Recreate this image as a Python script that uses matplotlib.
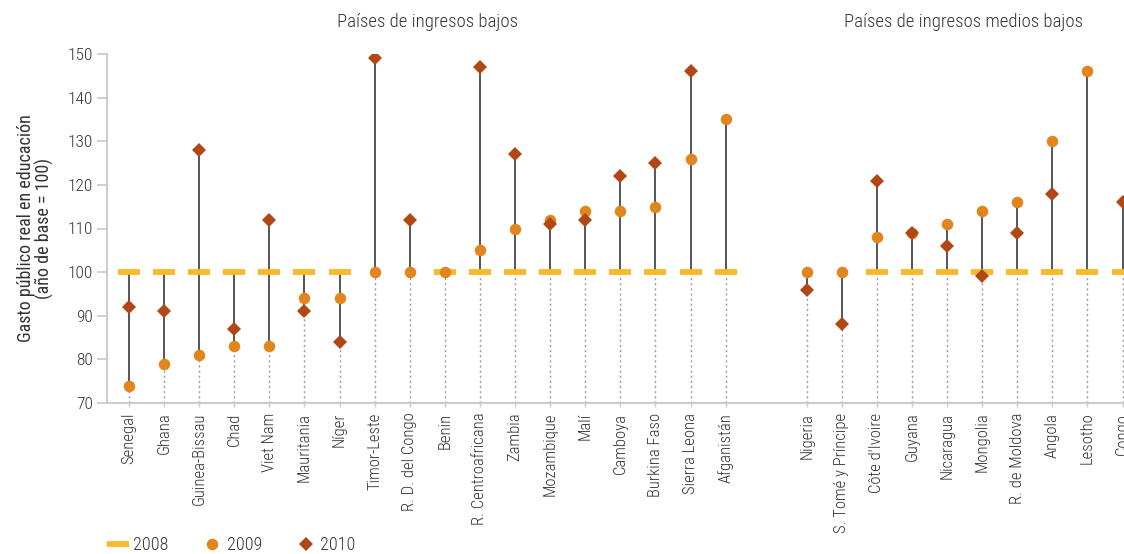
import numpy as np
import matplotlib
matplotlib.use("Agg")
import matplotlib.pyplot as plt

plt.rcParams['font.family'] = ['Roboto Condensed', 'Liberation Sans', 'DejaVu Sans']
plt.rcParams['font.weight'] = 'light'

low_countries = ["Senegal", "Ghana", "Guinea-Bissau", "Chad", "Viet Nam", "Mauritania",
                 "Níger", "Timor-Leste", "R. D. del Congo", "Benin", "R. Centroafricana",
                 "Zambia", "Mozambique", "Malí", "Camboya", "Burkina Faso", "Sierra Leona",
                 "Afganistán"]
low_2008 = [100, 100, 100, 100, 100, 100, 100, np.nan, np.nan, 100, 100,
            100, 100, 100, 100, 100, 100, 100]
low_2009 = [74, 79, 81, 83, 83, 94, 94, 100, 100, 100, 105,
            110, 112, 114, 114, 115, 126, 135]
low_2010 = [92, 91, 128, 87, 112, 91, 84, 149, 112, np.nan, 147,
            127, 111, 112, 122, 125, 146, np.nan]

mid_countries = ["Nigeria", "S. Tomé y Príncipe", "Côte d'Ivoire", "Guyana", "Nicaragua",
                 "Mongolia", "R. de Moldova", "Angola", "Lesotho", "Congo"]
mid_2008 = [np.nan, np.nan, 100, 100, 100, 100, 100, 100, 100, 100]
mid_2009 = [100, 100, 108, 109, 111, 114, 116, 130, 146, np.nan]
mid_2010 = [96, 88, 121, 109, 106, 99, 109, 118, np.nan, 116]

countries = low_countries + mid_countries
v2008 = np.array(low_2008 + mid_2008, dtype=float)
v2009 = np.array(low_2009 + mid_2009, dtype=float)
v2010 = np.array(low_2010 + mid_2010, dtype=float)
x = np.concatenate([np.arange(len(low_countries)),
                    19.31 + np.arange(len(mid_countries))])

c08 = "#FBB829"
c09 = "#E0861D"
c10 = "#B04714"
txt = "#333333"

fig = plt.figure(figsize=(11.24, 5.54), dpi=100)
ax = fig.add_axes([107/1124, 1 - 403/554, 1 - 107/1124, (403 - 54)/554])

ymin = 70
vals = np.vstack([v2008, v2009, v2010])
lo = np.nanmin(vals, axis=0)
hi = np.nanmax(vals, axis=0)
# dotted guide up to the lowest value, solid stem across the range
ax.vlines(x, ymin, lo, colors="#9a9a9a", linestyles=(0, (1.5, 2.2)), linewidth=1, zorder=1)
ax.vlines(x, lo, hi, colors="#555555", linewidth=1.4, zorder=2)

ax.plot(x, v2008, ls="none", marker="_", ms=15.5, mew=4.2, color=c08, label="2008", zorder=3)
ax.plot(x, v2009, ls="none", marker="o", ms=8.3, mew=0, color=c09, label="2009", zorder=4)
ax.plot(x, v2010, ls="none", marker="D", ms=7.2, mew=0, color=c10, label="2010", zorder=5)

ax.set_xlim(-0.627, 28.35)
ax.set_ylim(70, 150)
ax.set_yticks(range(70, 151, 10))
ax.set_xticks(x)
ax.set_xticklabels(countries, rotation=90, fontsize=12, color=txt)
ax.tick_params(axis="y", labelsize=12.5, labelcolor=txt, color="#c8c8c8", length=7, width=1.2, pad=3)
ax.tick_params(axis="x", color="#c8c8c8", length=3, width=1, pad=4)
for s in ["top", "right"]:
    ax.spines[s].set_visible(False)
for s in ["left", "bottom"]:
    ax.spines[s].set_color("#cccccc")
    ax.spines[s].set_linewidth(1.5)

ax.set_ylabel("Gasto público real en educación\n(año de base = 100)", fontsize=13,
              color=txt, linespacing=1.0, labelpad=10)

fig.text(427/1124, 1 - 22/554, "Países de ingresos bajos", ha="center", va="center",
         fontsize=13.5, color=txt)
fig.text(964/1124, 1 - 22/554, "Países de ingresos medios bajos", ha="center", va="center",
         fontsize=13.5, color=txt)

fig.legend(loc="center left", bbox_to_anchor=(100/1124, 1 - 545/554), ncol=3, frameon=False,
           fontsize=13, handlelength=1.2, handletextpad=0.2, columnspacing=1.85,
           labelcolor=txt, borderaxespad=0)

fig.savefig("out.png", dpi=100)
